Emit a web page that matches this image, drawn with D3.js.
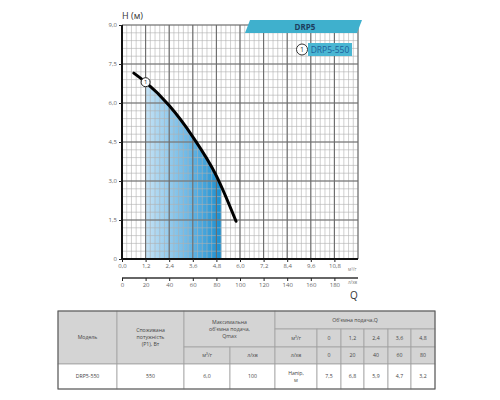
<!DOCTYPE html>
<html>
<head>
<meta charset="utf-8">
<script src="https://cdn.jsdelivr.net/npm/d3@7"></script>
<style>
  body { margin: 0; background: #fff; }
  svg { font-family: "Open Sans", sans-serif; }
</style>
</head>
<body>
<svg id="vis" width="500" height="400"></svg>
<script>
// pump curve DRP5-550 (Q in m3/h, H in m)
const curveQ = [0.6, 1.2, 2.4, 3.6, 4.8, 5.8];
const curveH = [7.15, 6.8, 5.9, 4.7, 3.2, 1.45];
const workRange = [1.2, 5.05];

// axis ticks
const qTicks = [0, 1.2, 2.4, 3.6, 4.8, 6.0, 7.2, 8.4, 9.6, 10.8];
const hTicks = [0, 1.5, 3.0, 4.5, 6.0, 7.5, 9.0];
const lpmTicks = [0, 20, 40, 60, 80, 100, 120, 140, 160, 180];

// table values
const tableM3 = ["0", "1,2", "2,4", "3,6", "4,8"];
const tableLpm = ["0", "20", "40", "60", "80"];
const tableHead = ["7,5", "6,8", "5,9", "4,7", "3,2"];
const model = "DRP5-550";
const power = "550";
const qmaxM3 = "6,0";
const qmaxLpm = "100";

const svg = d3.select("#vis");
const comma = v => v.toFixed(1).replace(".", ",");

const x = d3.scaleLinear().domain([0, 12]).range([122, 358]);
const y = d3.scaleLinear().domain([0, 9]).range([259, 25]);
const xl = d3.scaleLinear().domain([0, 200]).range([122, 358]);

const defs = svg.append("defs");
const grad = defs.append("linearGradient")
  .attr("id", "fillGrad")
  .attr("gradientUnits", "userSpaceOnUse")
  .attr("x1", x(workRange[0])).attr("x2", x(workRange[1]))
  .attr("y1", 0).attr("y2", 0);
grad.append("stop").attr("offset", "0%").attr("stop-color", "#c4e2f5");
grad.append("stop").attr("offset", "55%").attr("stop-color", "#6fb9e6");
grad.append("stop").attr("offset", "100%").attr("stop-color", "#1a8fd0");

defs.append("clipPath").attr("id", "workClip")
  .append("rect")
  .attr("x", x(workRange[0]))
  .attr("y", y(9))
  .attr("width", x(workRange[1]) - x(workRange[0]))
  .attr("height", y(0) - y(9));

const pts = curveQ.map((q, i) => [q, curveH[i]]);

// shaded working area (clipped to working range)
const area = d3.area()
  .x(d => x(d[0]))
  .y0(y(0))
  .y1(d => y(d[1]))
  .curve(d3.curveMonotoneX);
svg.append("path")
  .attr("d", area(pts))
  .attr("fill", "url(#fillGrad)")
  .attr("clip-path", "url(#workClip)");

// grid
const grid = svg.append("g");
const minorX = d3.range(0, 12.001, 0.24);
const minorY = d3.range(0, 9.001, 0.3);
grid.selectAll("line.mx").data(minorX).enter().append("line")
  .attr("x1", d => x(d)).attr("x2", d => x(d))
  .attr("y1", y(0)).attr("y2", y(9))
  .attr("stroke", "#b0b0b0").attr("stroke-width", 0.6);
grid.selectAll("line.my").data(minorY).enter().append("line")
  .attr("y1", d => y(d)).attr("y2", d => y(d))
  .attr("x1", x(0)).attr("x2", x(12))
  .attr("stroke", "#b0b0b0").attr("stroke-width", 0.6);
grid.selectAll("line.Mx").data(qTicks.concat([12])).enter().append("line")
  .attr("x1", d => x(d)).attr("x2", d => x(d))
  .attr("y1", y(0)).attr("y2", y(9))
  .attr("stroke", "#6a6a6a").attr("stroke-width", 1.1);
grid.selectAll("line.My").data(hTicks).enter().append("line")
  .attr("y1", d => y(d)).attr("y2", d => y(d))
  .attr("x1", x(0)).attr("x2", x(12))
  .attr("stroke", "#6a6a6a").attr("stroke-width", 1.1);

// axes
const xAxis = svg.append("g")
  .attr("transform", "translate(0," + y(0) + ")")
  .call(d3.axisBottom(x).tickValues(qTicks).tickSize(3).tickPadding(2)
    .tickFormat(d => comma(d)));
const yAxis = svg.append("g")
  .attr("transform", "translate(" + x(0) + ",0)")
  .call(d3.axisLeft(y).tickValues(hTicks).tickSize(3).tickPadding(2)
    .tickFormat(d => d === 0 ? "0" : comma(d)));
const lAxis = svg.append("g")
  .attr("transform", "translate(0,278)")
  .call(d3.axisBottom(xl).tickValues(lpmTicks).tickSize(3).tickPadding(2));

[xAxis, yAxis, lAxis].forEach(a => {
  a.selectAll("text").attr("font-size", 6).attr("fill", "#666")
    .attr("font-family", "Open Sans");
  a.selectAll(".tick line").attr("stroke", "#222");
});
xAxis.select(".domain").attr("d", "M" + x(0) + ",0H" + x(12))
  .attr("stroke", "#111").attr("stroke-width", 2);
yAxis.select(".domain").attr("d", "M0," + y(0) + "V" + y(9))
  .attr("stroke", "#111").attr("stroke-width", 2);
lAxis.select(".domain").attr("d", "M" + xl(0) + ",0H" + xl(200))
  .attr("stroke", "#333").attr("stroke-width", 1.4);

// unit labels
svg.append("text").attr("x", 122).attr("y", 19)
  .attr("font-size", 9).attr("fill", "#333").text("H (м)");
svg.append("text").attr("x", 348).attr("y", 271)
  .attr("font-size", 4.5).attr("fill", "#777").text("м³/г");
svg.append("text").attr("x", 348).attr("y", 284)
  .attr("font-size", 4.5).attr("fill", "#777").text("л/хв");
svg.append("text").attr("x", 350).attr("y", 299)
  .attr("font-size", 10).attr("fill", "#333").text("Q");

// curve
svg.append("path")
  .attr("d", d3.line().x(d => x(d[0])).y(d => y(d[1])).curve(d3.curveMonotoneX)(pts))
  .attr("fill", "none").attr("stroke", "#000").attr("stroke-width", 3)
  .attr("stroke-linecap", "round");

const marker = svg.append("g")
  .attr("transform", "translate(" + x(curveQ[1]) + "," + y(curveH[1]) + ")");
marker.append("circle").attr("r", 4.5).attr("fill", "#fff")
  .attr("stroke", "#222").attr("stroke-width", 1);
marker.append("text").attr("text-anchor", "middle").attr("dy", "0.35em")
  .attr("font-size", 6).attr("fill", "#222").text("1");

// banner
svg.append("polygon")
  .attr("points", "250,20 362,20 357,33 245,33")
  .attr("fill", "#3fb0cd");
svg.append("text").attr("x", 305).attr("y", 29.5).attr("text-anchor", "middle")
  .attr("font-size", 8).attr("font-weight", "bold").attr("fill", "#1d3d5e")
  .text("DRP5");

// legend
svg.append("rect").attr("x", 308).attr("y", 43).attr("width", 44).attr("height", 13)
  .attr("fill", "#4ab6d2");
svg.append("circle").attr("cx", 302).attr("cy", 49.5).attr("r", 5.5)
  .attr("fill", "#fff").attr("stroke", "#333").attr("stroke-width", 1);
svg.append("text").attr("x", 302).attr("y", 49.5).attr("dy", "0.35em")
  .attr("text-anchor", "middle").attr("font-size", 7).attr("fill", "#333").text("1");
svg.append("text").attr("x", 330).attr("y", 52.5).attr("text-anchor", "middle")
  .attr("font-size", 8.5).attr("fill", "#1d5f9a").text(model);

// table
const rows = [311, 329, 347, 364, 389];
const cols = [58, 117, 184, 230, 275, 317, 341, 364, 388, 411, 435];
const cells = [
  { c: [0, 1], r: [0, 3], t: ["Модель"], bg: true },
  { c: [1, 2], r: [0, 3], t: ["Споживана", "потужність", "(P1), Вт"], bg: true },
  { c: [2, 4], r: [0, 2], t: ["Максимальна", "об'ємна подача,", "Qmax"], bg: true },
  { c: [2, 3], r: [2, 3], t: ["м³/г"], bg: true },
  { c: [3, 4], r: [2, 3], t: ["л/хв"], bg: true },
  { c: [4, 10], r: [0, 1], t: ["Об'ємна подача,Q"], bg: true },
  { c: [4, 5], r: [1, 2], t: ["м³/г"], bg: true },
  { c: [4, 5], r: [2, 3], t: ["л/хв"], bg: true },
  { c: [0, 1], r: [3, 4], t: [model] },
  { c: [1, 2], r: [3, 4], t: [power] },
  { c: [2, 3], r: [3, 4], t: [qmaxM3] },
  { c: [3, 4], r: [3, 4], t: [qmaxLpm] },
  { c: [4, 5], r: [3, 4], t: ["Напір,", "м"] }
];
tableM3.forEach((v, i) => cells.push({ c: [5 + i, 6 + i], r: [1, 2], t: [v], bg: true }));
tableLpm.forEach((v, i) => cells.push({ c: [5 + i, 6 + i], r: [2, 3], t: [v], bg: true }));
tableHead.forEach((v, i) => cells.push({ c: [5 + i, 6 + i], r: [3, 4], t: [v] }));

const tg = svg.append("g");
const cg = tg.selectAll("g.cell").data(cells).enter().append("g");
cg.append("rect")
  .attr("x", d => cols[d.c[0]]).attr("y", d => rows[d.r[0]])
  .attr("width", d => cols[d.c[1]] - cols[d.c[0]])
  .attr("height", d => rows[d.r[1]] - rows[d.r[0]])
  .attr("fill", d => d.bg ? "#d4d4d4" : "#fff")
  .attr("stroke", "#a0a0a0").attr("stroke-width", 0.8);
cg.each(function(d) {
  const cx = (cols[d.c[0]] + cols[d.c[1]]) / 2;
  const cy = (rows[d.r[0]] + rows[d.r[1]]) / 2;
  const lh = 7;
  d3.select(this).selectAll("text").data(d.t).enter().append("text")
    .attr("x", cx)
    .attr("y", (t, i) => cy + (i - (d.t.length - 1) / 2) * lh)
    .attr("dy", "0.35em")
    .attr("text-anchor", "middle")
    .attr("font-size", 5.2)
    .attr("fill", "#444")
    .text(t => t);
});
tg.append("rect").attr("x", cols[0]).attr("y", rows[0])
  .attr("width", cols[10] - cols[0]).attr("height", rows[4] - rows[0])
  .attr("fill", "none").attr("stroke", "#555").attr("stroke-width", 1);
</script>
</body>
</html>
